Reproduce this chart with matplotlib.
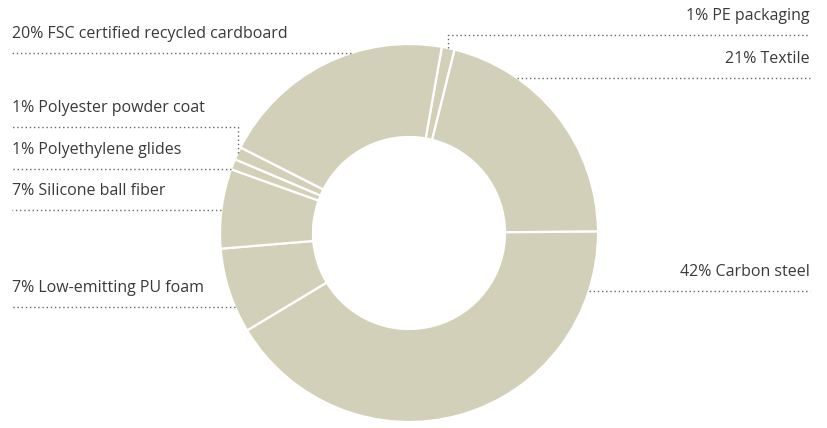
import numpy as np
from matplotlib import pyplot as plt

# slices, clockwise from the top
names = ["PE packaging", "Textile", "Carbon steel", "Low-emitting PU foam",
         "Silicone ball fiber", "Polyethylene glides", "Polyester powder coat",
         "FSC certified recycled cardboard"]
shares = [1.1, 21.0, 41.5, 7.3, 6.8, 0.9, 1.1, 20.3]
pct_text = ["1%", "21%", "42%", "7%", "7%", "1%", "1%", "20%"]

# leader line heights (pixels from the top) and which side the label sits on
line_y = [35, 78, 291, 307, 210, 169, 127, 53]
side = ["right", "right", "right", "left", "left", "left", "left", "left"]
elbow = [True, False, False, False, False, False, True, False]

W, H = 827, 428
cx, cy, R, ring = 409, H - 233, 189, 93
fill = "#d3d0ba"
txt_col = "#3a3a3a"
dot_col = "#666666"

fig = plt.figure(figsize=(W / 100, H / 100), dpi=100)
ax = fig.add_axes([0, 0, 1, 1])

wedges, _ = ax.pie(shares, center=(cx, cy), radius=R, startangle=80,
                   counterclock=False, colors=[fill] * len(shares),
                   wedgeprops=dict(width=ring, edgecolor="white", linewidth=1.6))

for w, nm, pc, ly, sd, el in zip(wedges, names, pct_text, line_y, side, elbow):
    y = H - ly
    if el:
        mid = np.deg2rad((w.theta1 + w.theta2) / 2)
        xe = cx + R * np.cos(mid)
        ye = cy + R * np.sin(mid)
        xs = [xe, xe, 810] if sd == "right" else [xe, xe, 12]
        ys = [ye, y, y]
    else:
        dx = np.sqrt(max(R ** 2 - (y - cy) ** 2, 0))
        xe = cx + dx if sd == "right" else cx - dx
        xs = [xe, 810] if sd == "right" else [xe, 12]
        ys = [y, y]
    ax.plot(xs, ys, color=dot_col, lw=1.0, ls=(0, (1, 2)), solid_capstyle="butt")
    if sd == "right":
        ax.text(810, y + 19, f"{pc} {nm}", ha="right", va="center",
                fontsize=11.5, color=txt_col, family="Open Sans")
    else:
        ax.text(12, y + 19, f"{pc} {nm}", ha="left", va="center",
                fontsize=11.5, color=txt_col, family="Open Sans")

ax.set_xlim(0, W)
ax.set_ylim(0, H)
ax.set_aspect("equal")
ax.set_axis_off()

plt.savefig("out.png", dpi=100)
